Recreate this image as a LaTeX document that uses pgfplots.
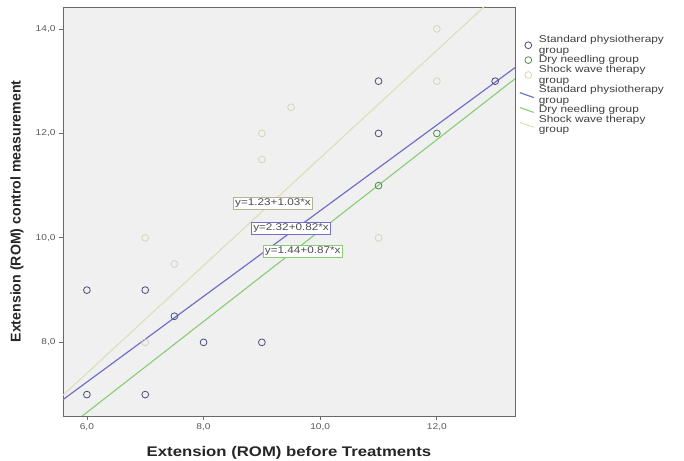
\documentclass[border=0pt]{standalone}
\usepackage{pgfplots}
\pgfplotsset{compat=1.18}
\usepackage{fontspec}
\setmainfont{Liberation Sans}
\newfontfamily\wide[FakeStretch=1.2]{Liberation Sans}
\definecolor{plotbg}{RGB}{240,240,240}
\definecolor{framec}{RGB}{105,105,105}
\definecolor{bline}{RGB}{112,112,200}
\definecolor{gline}{RGB}{135,205,115}
\definecolor{yline}{RGB}{222,222,185}
\definecolor{bmark}{RGB}{75,75,125}
\definecolor{gmark}{RGB}{75,140,75}
\definecolor{ymark}{RGB}{212,212,190}
\pgfplotsset{fitlegend/.style={legend image code/.code={\draw[##1] (0bp,2.5bp) -- (14bp,-2.5bp);}}}
\begin{document}
\begin{tikzpicture}
\begin{axis}[
  at={(63bp,45bp)}, anchor=south west,
  scale only axis, width=452bp, height=409bp,
  xmin=5.59, xmax=13.34, ymin=6.59, ymax=14.42,
  axis background/.style={fill=plotbg},
  axis line style={framec, line width=0.9pt},
  xtick={6,8,10,12}, ytick={8,10,12,14},
  tick align=outside, tick pos=left, major tick length=4bp,
  tick style={framec, line width=0.8pt},
  tick label style={font=\wide\fontsize{8.5}{10}\selectfont, text=black!65},
  /pgf/number format/fixed, /pgf/number format/fixed zerofill,
  /pgf/number format/precision=1, /pgf/number format/use comma,
  /pgf/number format/assume math mode=true,
  xlabel={Extension (ROM) before Treatments},
  ylabel={Extension (ROM) control measurement},
  xlabel style={at={([yshift=-37bp]rel axis cs:0.5,0)}, anchor=center,
    font=\wide\bfseries\fontsize{14}{16}\selectfont, text=black!85},
  ylabel style={at={([xshift=-46bp]rel axis cs:0,0.5)}, anchor=center,
    font=\bfseries\fontsize{14.2}{16}\selectfont, text=black!85},
  legend style={at={(rel axis cs:1,1)}, anchor=north west, xshift=4bp, yshift=-28bp,
    draw=none, fill=none, inner sep=0pt, row sep=0pt, column sep=4bp,
    font=\wide\fontsize{9.9}{10.5}\selectfont,
    cells={anchor=west, align=left},
    nodes={inner sep=0.5bp, text=black!75}},
  legend cell align=left,
  clip=true,
]
% Standard physiotherapy group (markers)
\addplot[only marks, mark=o, mark size=3.4bp, bmark, line width=0.8pt] coordinates {
 (6,9) (7,9) (6,7) (7,7) (8,8) (9,8) (7.5,8.5) (11,12) (11,13) (13,13)};
\addlegendentry{Standard physiotherapy\\group}
% Dry needling group (markers)
\addplot[only marks, mark=o, mark size=3.4bp, gmark, line width=0.8pt] coordinates {
 (11,11) (12,12)};
\addlegendentry{Dry needling group}
% Shock wave therapy group (markers)
\addplot[only marks, mark=o, mark size=3.4bp, ymark, line width=0.8pt] coordinates {
 (12,14) (12,13) (9.5,12.5) (9,12) (9,11.5) (11,10) (7,10) (7.5,9.5) (7,8)};
\addlegendentry{Shock wave therapy\\group}
% Fit lines
\addplot[bline, line width=1.2pt, fitlegend]
 coordinates {(5.59,6.904) (13.34,13.259)};
\addlegendentry{Standard physiotherapy\\group}
\addplot[gline, line width=1.1pt, fitlegend]
 coordinates {(5.59,6.303) (13.34,13.046)};
\addlegendentry{Dry needling group}
\addplot[yline, line width=1.1pt, fitlegend]
 coordinates {(5.59,6.988) (13.34,14.970)};
\addlegendentry{Shock wave therapy\\group}
% equation labels
\node[draw=yline!80!black, fill=white, inner sep=1.5bp, line width=0.6pt,
  font=\wide\fontsize{9.8}{11}\selectfont, text=black!70] at (axis cs:9.19,10.66) {y=1.23+1.03*x};
\node[draw=bline, fill=white, inner sep=1.5bp, line width=0.6pt,
  font=\wide\fontsize{9.8}{11}\selectfont, text=black!70] at (axis cs:9.50,10.18) {y=2.32+0.82*x};
\node[draw=gline, fill=white, inner sep=1.5bp, line width=0.6pt,
  font=\wide\fontsize{9.8}{11}\selectfont, text=black!70] at (axis cs:9.70,9.74) {y=1.44+0.87*x};
% legend title and R2 notes
\node[font=\wide\fontsize{11}{12}\selectfont, text=black!75, anchor=center]
  at (rel axis cs:1.175,0.967) {Group of treatment};
\node[font=\wide\fontsize{9.6}{11.3}\selectfont, text=black!75, align=center, anchor=center]
  at (rel axis cs:1.18,0.497) {Standard physiotherapy group:\\R$^2$ Linear = 0,305\\Dry needling group: R$^2$ Linear =\\0,875\\Shock wave therapy group: R$^2$\\Linear = 0,024};
\end{axis}
\pgfresetboundingbox
\useasboundingbox (0,0) rectangle (684bp,461bp);
\end{tikzpicture}
\end{document}
